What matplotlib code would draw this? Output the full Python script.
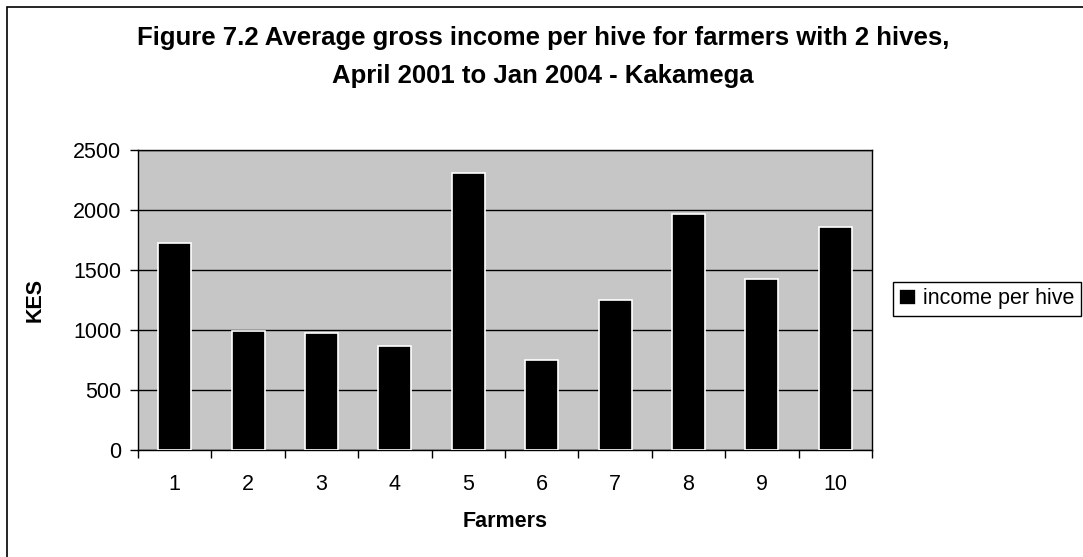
import numpy as np
import matplotlib
matplotlib.use("Agg")
import matplotlib.pyplot as plt
from matplotlib.patches import Rectangle

plt.rcParams['font.family'] = ['Liberation Sans', 'DejaVu Sans']

# data
farmers = ["1", "2", "3", "4", "5", "6", "7", "8", "9", "10"]
income_per_hive = [1725, 995, 975, 865, 2305, 750, 1250, 1965, 1425, 1855]
y_ticks = [0, 500, 1000, 1500, 2000, 2500]

W, H = 1083, 557
fig = plt.figure(figsize=(W / 100, H / 100), dpi=100)

# outer chart frame (cropped on right and bottom)
fig.patches.append(Rectangle((7 / W, -0.1), 1.2, 1 - 7 / H + 0.1,
                             transform=fig.transFigure, fill=False,
                             edgecolor='black', linewidth=1.2))

ax = fig.add_axes([138 / W, 1 - 450 / H, (872 - 138) / W, 300 / H])
ax.set_facecolor('#c6c6c6')

x = np.arange(1, len(farmers) + 1)
ax.bar(x, income_per_hive, width=0.45, color='black', edgecolor='white',
       linewidth=1.2, label='income per hive', zorder=3)

ax.set_xlim(0.5, len(farmers) + 0.5)
ax.set_ylim(0, 2500)
ax.set_yticks(y_ticks)
ax.yaxis.grid(True, color='black', linewidth=1, zorder=1)
ax.set_axisbelow(True)

ax.set_xticks(x)
ax.set_xticklabels(farmers)
ax.set_xticks(np.arange(0.5, len(farmers) + 1), minor=True)
ax.tick_params(axis='x', which='major', length=0, pad=17, labelsize=15.5)
ax.tick_params(axis='x', which='minor', length=6, width=1, direction='out')
ax.tick_params(axis='y', length=6, width=1, direction='out', pad=6, labelsize=15.5)

for s in ax.spines.values():
    s.set_color('black')
    s.set_linewidth(1)

ax.set_xlabel('Farmers', fontsize=15.5, fontweight='bold', labelpad=12)
ax.set_ylabel('KES', fontsize=15.5, fontweight='bold', labelpad=20)

fig.text(543 / W, 1 - 57 / H,
         'Figure 7.2 Average gross income per hive for farmers with 2 hives,\n'
         'April 2001 to Jan 2004 - Kakamega',
         ha='center', va='center', fontsize=18.5, fontweight='bold', linespacing=1.7)

leg = ax.legend(loc='upper left', bbox_to_anchor=(893 / W, 1 - 282 / H),
                bbox_transform=fig.transFigure, borderaxespad=0,
                fancybox=False, edgecolor='black', framealpha=1,
                fontsize=15.5, handlelength=0.75, handleheight=0.75,
                handletextpad=0.35, borderpad=0.3)
leg.get_frame().set_linewidth(1)

fig.savefig('out.png', dpi=100)
